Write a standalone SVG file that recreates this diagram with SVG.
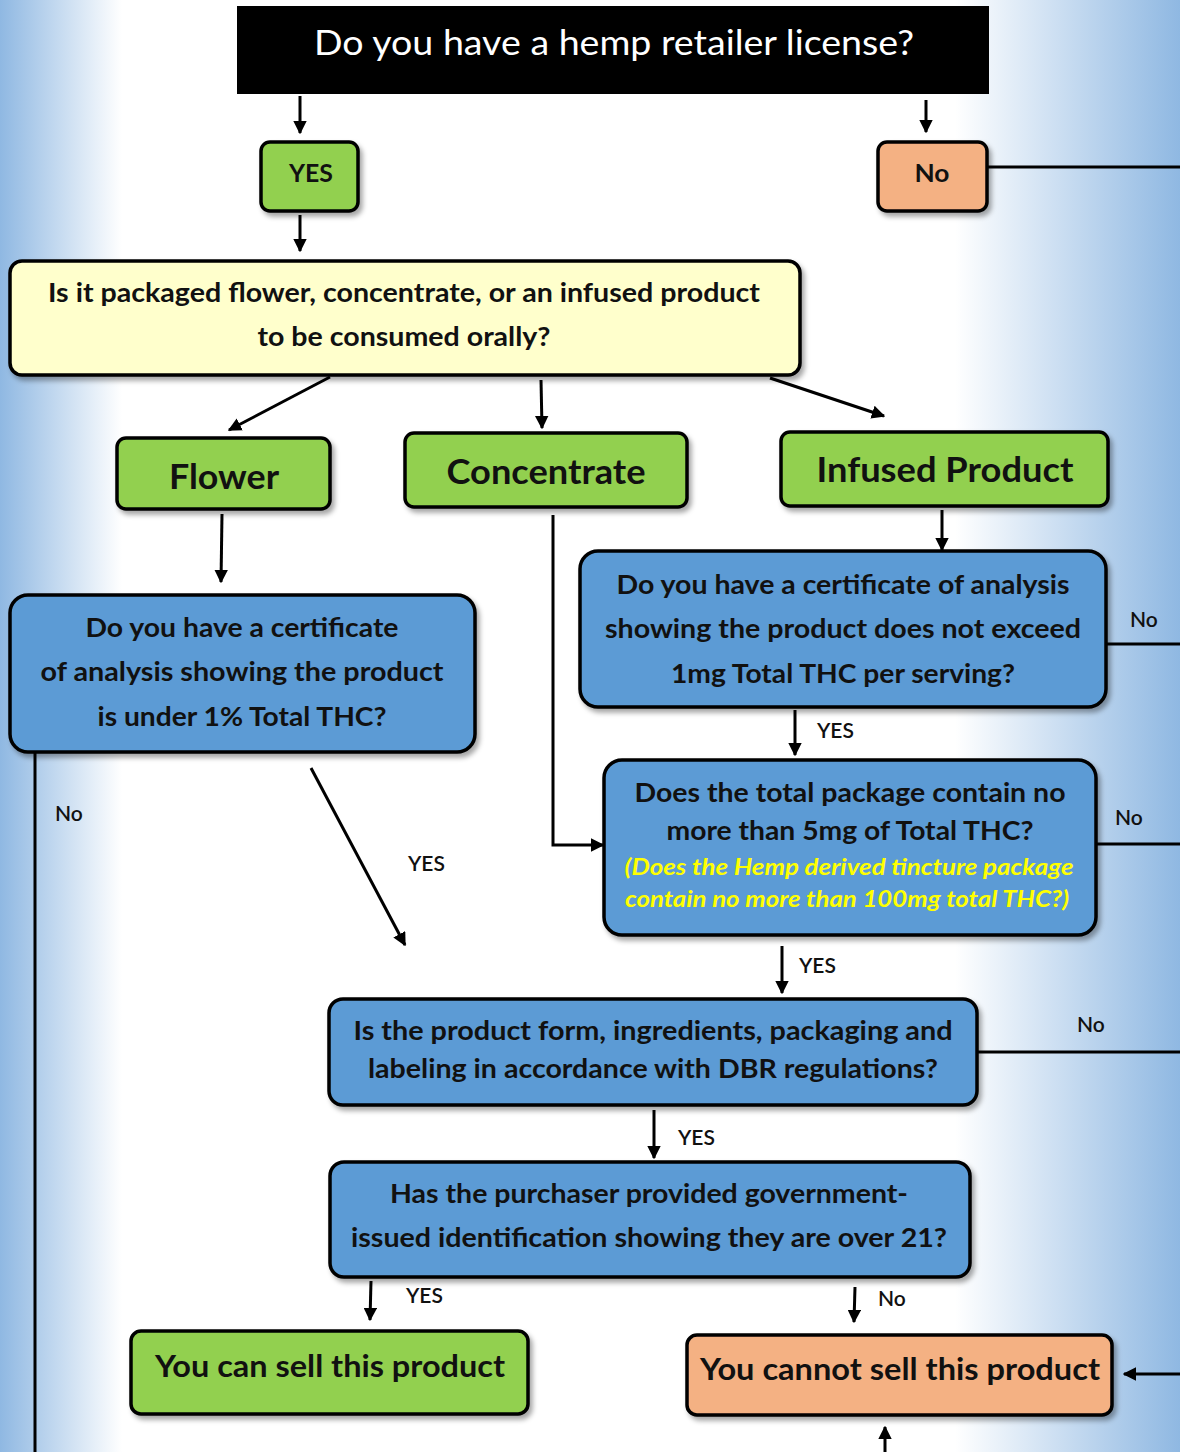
<svg xmlns="http://www.w3.org/2000/svg" width="1180" height="1452" viewBox="0 0 1180 1452">
<defs>
<linearGradient id="bgL" x1="0" y1="0" x2="1" y2="0">
<stop offset="0" stop-color="#8fb8e2"/><stop offset="1" stop-color="#ffffff"/>
</linearGradient>
<linearGradient id="bgR" x1="0" y1="0" x2="1" y2="0">
<stop offset="0" stop-color="#ffffff"/><stop offset="1" stop-color="#8fb8e2"/>
</linearGradient>
<filter id="sh" x="-5%" y="-10%" width="115%" height="130%">
<feDropShadow dx="3" dy="4" stdDeviation="2.5" flood-color="#000" flood-opacity="0.35"/>
</filter>
<marker id="ah" viewBox="0 0 10 10" refX="9" refY="5" markerWidth="4.5" markerHeight="4.5" orient="auto" markerUnits="strokeWidth">
<path d="M0,0 L10,5 L0,10 z" fill="#000"/>
</marker>
<style>
.box{stroke:#000;stroke-width:3.5;filter:url(#sh)}
.g{fill:#92d050}.b{fill:#5b9bd5}.o{fill:#f4b183}.y{fill:#ffffcc}
text{font-family:Lato,"Open Sans","Liberation Sans",sans-serif;fill:#111}
.t{font-weight:bold;font-size:26px;text-anchor:middle}
.big{font-weight:bold;font-size:34px;text-anchor:middle}
.lbl{font-size:21px;font-weight:600}
.yl{fill:#ffff00;font-style:italic;font-weight:bold;font-size:23px;text-anchor:middle}
.c{stroke:#000;stroke-width:3;fill:none}
.ca{stroke:#000;stroke-width:3;fill:none;marker-end:url(#ah)}
</style>
</defs>
<rect x="0" y="0" width="1180" height="1452" fill="#ffffff"/>
<rect x="0" y="0" width="122" height="1452" fill="url(#bgL)"/>
<rect x="955" y="0" width="225" height="1452" fill="url(#bgR)"/>

<g id="connectors">
<line class="ca" x1="300" y1="96" x2="300" y2="133"/>
<line class="ca" x1="926" y1="100" x2="926" y2="132"/>
<line class="c" x1="987" y1="167" x2="1180" y2="167"/>
<line class="ca" x1="300" y1="215" x2="300" y2="251"/>
<line class="ca" x1="330" y1="377" x2="229" y2="430"/>
<line class="ca" x1="541" y1="380" x2="542" y2="428"/>
<line class="ca" x1="770" y1="378" x2="884" y2="416"/>
<line class="ca" x1="222" y1="514" x2="221" y2="582"/>
<line class="ca" x1="942" y1="510" x2="942" y2="550"/>
<polyline class="ca" points="553,515 553,845 603,845"/>
<line class="c" x1="1106" y1="644" x2="1180" y2="644"/>
<line class="ca" x1="795" y1="710" x2="795" y2="755"/>
<line class="c" x1="1097" y1="844" x2="1180" y2="844"/>
<line class="ca" x1="782" y1="946" x2="782" y2="993"/>
<line class="ca" x1="311" y1="768" x2="405" y2="945"/>
<line class="c" x1="35" y1="752" x2="35" y2="1452"/>
<line class="c" x1="977" y1="1052" x2="1180" y2="1052"/>
<line class="ca" x1="654" y1="1110" x2="654" y2="1158"/>
<line class="ca" x1="371" y1="1281" x2="370" y2="1320"/>
<line class="ca" x1="855" y1="1287" x2="854" y2="1322"/>
<line class="ca" x1="1180" y1="1374" x2="1124" y2="1374"/>
<line class="ca" x1="885" y1="1452" x2="885" y2="1427"/>
<text class="lbl" x="1130" y="627">No</text>
<text class="lbl" x="817" y="738">YES</text>
<text class="lbl" x="1115" y="825">No</text>
<text class="lbl" x="799" y="973">YES</text>
<text class="lbl" x="408" y="871">YES</text>
<text class="lbl" x="55" y="821">No</text>
<text class="lbl" x="1077" y="1032">No</text>
<text class="lbl" x="678" y="1145">YES</text>
<text class="lbl" x="406" y="1303">YES</text>
<text class="lbl" x="878" y="1306">No</text>
</g>

<g id="n-license">
<rect x="237" y="6" width="752" height="88" fill="#000"/>
<text x="614" y="55" style="fill:#fff;font-size:34px;text-anchor:middle" textLength="600" lengthAdjust="spacingAndGlyphs">Do you have a hemp retailer license?</text>
</g>
<g id="n-yes">
<rect class="box g" x="261" y="142" width="97" height="69" rx="9"/>
<text class="t" x="311" y="182" style="font-size:24px" textLength="44" lengthAdjust="spacingAndGlyphs">YES</text>
</g>
<g id="n-no">
<rect class="box o" x="878" y="142" width="109" height="69" rx="9"/>
<text class="t" x="932" y="182" style="font-size:24px" textLength="35" lengthAdjust="spacingAndGlyphs">No</text>
</g>
<g id="n-type">
<rect class="box y" x="10" y="261" width="790" height="114" rx="12"/>
<text class="t" x="404" y="302" textLength="712" lengthAdjust="spacingAndGlyphs">Is it packaged flower, concentrate, or an infused product</text>
<text class="t" x="404" y="346" textLength="293" lengthAdjust="spacingAndGlyphs">to be consumed orally?</text>
</g>
<g id="n-flower">
<rect class="box g" x="117" y="438" width="213" height="71" rx="9"/>
<text class="big" x="224" y="489" textLength="110" lengthAdjust="spacingAndGlyphs">Flower</text>
</g>
<g id="n-concentrate">
<rect class="box g" x="405" y="433" width="282" height="74" rx="9"/>
<text class="big" x="546" y="484" textLength="199" lengthAdjust="spacingAndGlyphs">Concentrate</text>
</g>
<g id="n-infused">
<rect class="box g" x="781" y="432" width="327" height="74" rx="9"/>
<text class="big" x="945" y="482" textLength="257" lengthAdjust="spacingAndGlyphs">Infused Product</text>
</g>
<g id="n-flower-q">
<rect class="box b" x="10" y="595" width="465" height="157" rx="18"/>
<text class="t" x="242" y="637" textLength="313" lengthAdjust="spacingAndGlyphs">Do you have a certificate</text>
<text class="t" x="242" y="681" textLength="403" lengthAdjust="spacingAndGlyphs">of analysis showing the product</text>
<text class="t" x="242" y="726" textLength="289" lengthAdjust="spacingAndGlyphs">is under 1% Total THC?</text>
</g>
<g id="n-infused-q">
<rect class="box b" x="580" y="551" width="526" height="156" rx="18"/>
<text class="t" x="843" y="594" textLength="453" lengthAdjust="spacingAndGlyphs">Do you have a certificate of analysis</text>
<text class="t" x="843" y="638" textLength="476" lengthAdjust="spacingAndGlyphs">showing the product does not exceed</text>
<text class="t" x="843" y="683" textLength="344" lengthAdjust="spacingAndGlyphs">1mg Total THC per serving?</text>
</g>
<g id="n-package-q">
<rect class="box b" x="604" y="760" width="492" height="175" rx="18"/>
<text class="t" x="850" y="802" textLength="431" lengthAdjust="spacingAndGlyphs">Does the total package contain no</text>
<text class="t" x="850" y="840" textLength="367" lengthAdjust="spacingAndGlyphs">more than 5mg of Total THC?</text>
<text class="yl" x="849" y="875" textLength="449" lengthAdjust="spacingAndGlyphs">(Does the Hemp derived tincture package</text>
<text class="yl" x="847" y="907" textLength="444" lengthAdjust="spacingAndGlyphs">contain no more than 100mg total THC?)</text>
</g>
<g id="n-dbr-q">
<rect class="box b" x="329" y="999" width="648" height="106" rx="14"/>
<text class="t" x="653" y="1040" textLength="599" lengthAdjust="spacingAndGlyphs">Is the product form, ingredients, packaging and</text>
<text class="t" x="653" y="1078" textLength="570" lengthAdjust="spacingAndGlyphs">labeling in accordance with DBR regulations?</text>
</g>
<g id="n-id-q">
<rect class="box b" x="330" y="1162" width="640" height="115" rx="14"/>
<text class="t" x="649" y="1203" textLength="518" lengthAdjust="spacingAndGlyphs">Has the purchaser provided government-</text>
<text class="t" x="649" y="1247" textLength="596" lengthAdjust="spacingAndGlyphs">issued identification showing they are over 21?</text>
</g>
<g id="n-can">
<rect class="box g" x="131" y="1331" width="397" height="83" rx="10"/>
<text class="t" x="330" y="1377" style="font-size:30px" textLength="350" lengthAdjust="spacingAndGlyphs">You can sell this product</text>
</g>
<g id="n-cannot">
<rect class="box o" x="687" y="1335" width="425" height="80" rx="10"/>
<text class="t" x="900" y="1380" style="font-size:30px" textLength="400" lengthAdjust="spacingAndGlyphs">You cannot sell this product</text>
</g>
</svg>
